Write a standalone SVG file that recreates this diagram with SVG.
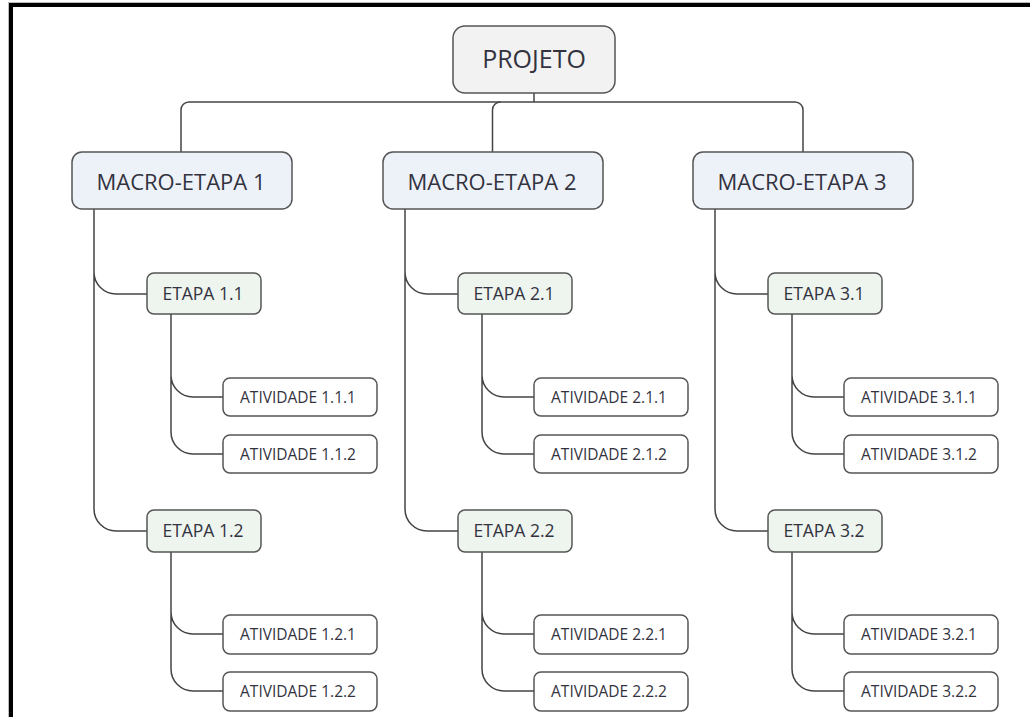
<svg xmlns="http://www.w3.org/2000/svg" width="1030" height="717" viewBox="0 0 1030 717">
<style>
text{font-family:"Open Sans","Noto Sans","Liberation Sans",sans-serif;fill:#333340;text-anchor:middle}
.box{stroke:#555;stroke-width:1.5}
.root{fill:#f2f2f2}
.macro{fill:#edf2f9}
.etapa{fill:#eef5ef}
.ativ{fill:#ffffff}
.t0{font-size:25px}
.t1{font-size:22px}
.t2{font-size:17.5px}
.t3{font-size:15.5px}
.conn path{fill:none;stroke:#444;stroke-width:1.5}
</style>
<rect width="1030" height="717" fill="#ffffff"/>
<g id="frame">
<rect x="8" y="2" width="1022" height="1" fill="#bbb"/>
<rect x="8" y="2" width="1" height="715" fill="#bbb"/>
<rect x="9" y="3" width="1021" height="4" fill="#000"/>
<rect x="9" y="3" width="4" height="714" fill="#000"/>
</g>
<g id="connectors" class="conn">
<path d="M534 93V102"/>
<path d="M181 152V110A8 8 0 0 1 189 102H795A8 8 0 0 1 803 110V152"/>
<path d="M492.5 152V110A8 8 0 0 1 500.5 102"/>
<path d="M94 209V272A22 22 0 0 0 116 294H147M94 272V509A22 22 0 0 0 116 531H147"/>
<path d="M171 314V375A22 22 0 0 0 193 397H223M171 375V432A22 22 0 0 0 193 454H223"/>
<path d="M171 552V612A22 22 0 0 0 193 634H223M171 612V669A22 22 0 0 0 193 691H223"/>
<path d="M405 209V272A22 22 0 0 0 427 294H458M405 272V509A22 22 0 0 0 427 531H458"/>
<path d="M482 314V375A22 22 0 0 0 504 397H534M482 375V432A22 22 0 0 0 504 454H534"/>
<path d="M482 552V612A22 22 0 0 0 504 634H534M482 612V669A22 22 0 0 0 504 691H534"/>
<path d="M715 209V272A22 22 0 0 0 737 294H768M715 272V509A22 22 0 0 0 737 531H768"/>
<path d="M792 314V375A22 22 0 0 0 814 397H844M792 375V432A22 22 0 0 0 814 454H844"/>
<path d="M792 552V612A22 22 0 0 0 814 634H844M792 612V669A22 22 0 0 0 814 691H844"/>
</g>
<g id="projeto"><rect class="box root" x="453" y="26" width="162" height="67" rx="12"/><text class="t0" x="534" y="68">PROJETO</text></g>
<g id="macro1"><rect class="box macro" x="72" y="152" width="220" height="57" rx="10"/><text class="t1" x="181" y="190">MACRO-ETAPA 1</text></g>
<g id="macro2"><rect class="box macro" x="383" y="152" width="220" height="57" rx="10"/><text class="t1" x="492" y="190">MACRO-ETAPA 2</text></g>
<g id="macro3"><rect class="box macro" x="693" y="152" width="220" height="57" rx="10"/><text class="t1" x="802" y="190">MACRO-ETAPA 3</text></g>
<g id="etapa11"><rect class="box etapa" x="147" y="273" width="114" height="41" rx="7"/><text class="t2" x="203" y="300">ETAPA 1.1</text></g>
<g id="etapa12"><rect class="box etapa" x="147" y="510" width="114" height="42" rx="7"/><text class="t2" x="203" y="537">ETAPA 1.2</text></g>
<g id="etapa21"><rect class="box etapa" x="458" y="273" width="114" height="41" rx="7"/><text class="t2" x="514" y="300">ETAPA 2.1</text></g>
<g id="etapa22"><rect class="box etapa" x="458" y="510" width="114" height="42" rx="7"/><text class="t2" x="514" y="537">ETAPA 2.2</text></g>
<g id="etapa31"><rect class="box etapa" x="768" y="273" width="114" height="41" rx="7"/><text class="t2" x="824" y="300">ETAPA 3.1</text></g>
<g id="etapa32"><rect class="box etapa" x="768" y="510" width="114" height="42" rx="7"/><text class="t2" x="824" y="537">ETAPA 3.2</text></g>
<g id="ativ111"><rect class="box ativ" x="223" y="378" width="154" height="38" rx="7"/><text class="t3" x="298" y="403">ATIVIDADE 1.1.1</text></g>
<g id="ativ112"><rect class="box ativ" x="223" y="435" width="154" height="38" rx="7"/><text class="t3" x="298" y="460">ATIVIDADE 1.1.2</text></g>
<g id="ativ121"><rect class="box ativ" x="223" y="615" width="154" height="39" rx="7"/><text class="t3" x="298" y="640">ATIVIDADE 1.2.1</text></g>
<g id="ativ122"><rect class="box ativ" x="223" y="672" width="154" height="39" rx="7"/><text class="t3" x="298" y="697">ATIVIDADE 1.2.2</text></g>
<g id="ativ211"><rect class="box ativ" x="534" y="378" width="154" height="38" rx="7"/><text class="t3" x="609" y="403">ATIVIDADE 2.1.1</text></g>
<g id="ativ212"><rect class="box ativ" x="534" y="435" width="154" height="38" rx="7"/><text class="t3" x="609" y="460">ATIVIDADE 2.1.2</text></g>
<g id="ativ221"><rect class="box ativ" x="534" y="615" width="154" height="39" rx="7"/><text class="t3" x="609" y="640">ATIVIDADE 2.2.1</text></g>
<g id="ativ222"><rect class="box ativ" x="534" y="672" width="154" height="39" rx="7"/><text class="t3" x="609" y="697">ATIVIDADE 2.2.2</text></g>
<g id="ativ311"><rect class="box ativ" x="844" y="378" width="154" height="38" rx="7"/><text class="t3" x="919" y="403">ATIVIDADE 3.1.1</text></g>
<g id="ativ312"><rect class="box ativ" x="844" y="435" width="154" height="38" rx="7"/><text class="t3" x="919" y="460">ATIVIDADE 3.1.2</text></g>
<g id="ativ321"><rect class="box ativ" x="844" y="615" width="154" height="39" rx="7"/><text class="t3" x="919" y="640">ATIVIDADE 3.2.1</text></g>
<g id="ativ322"><rect class="box ativ" x="844" y="672" width="154" height="39" rx="7"/><text class="t3" x="919" y="697">ATIVIDADE 3.2.2</text></g>
</svg>
